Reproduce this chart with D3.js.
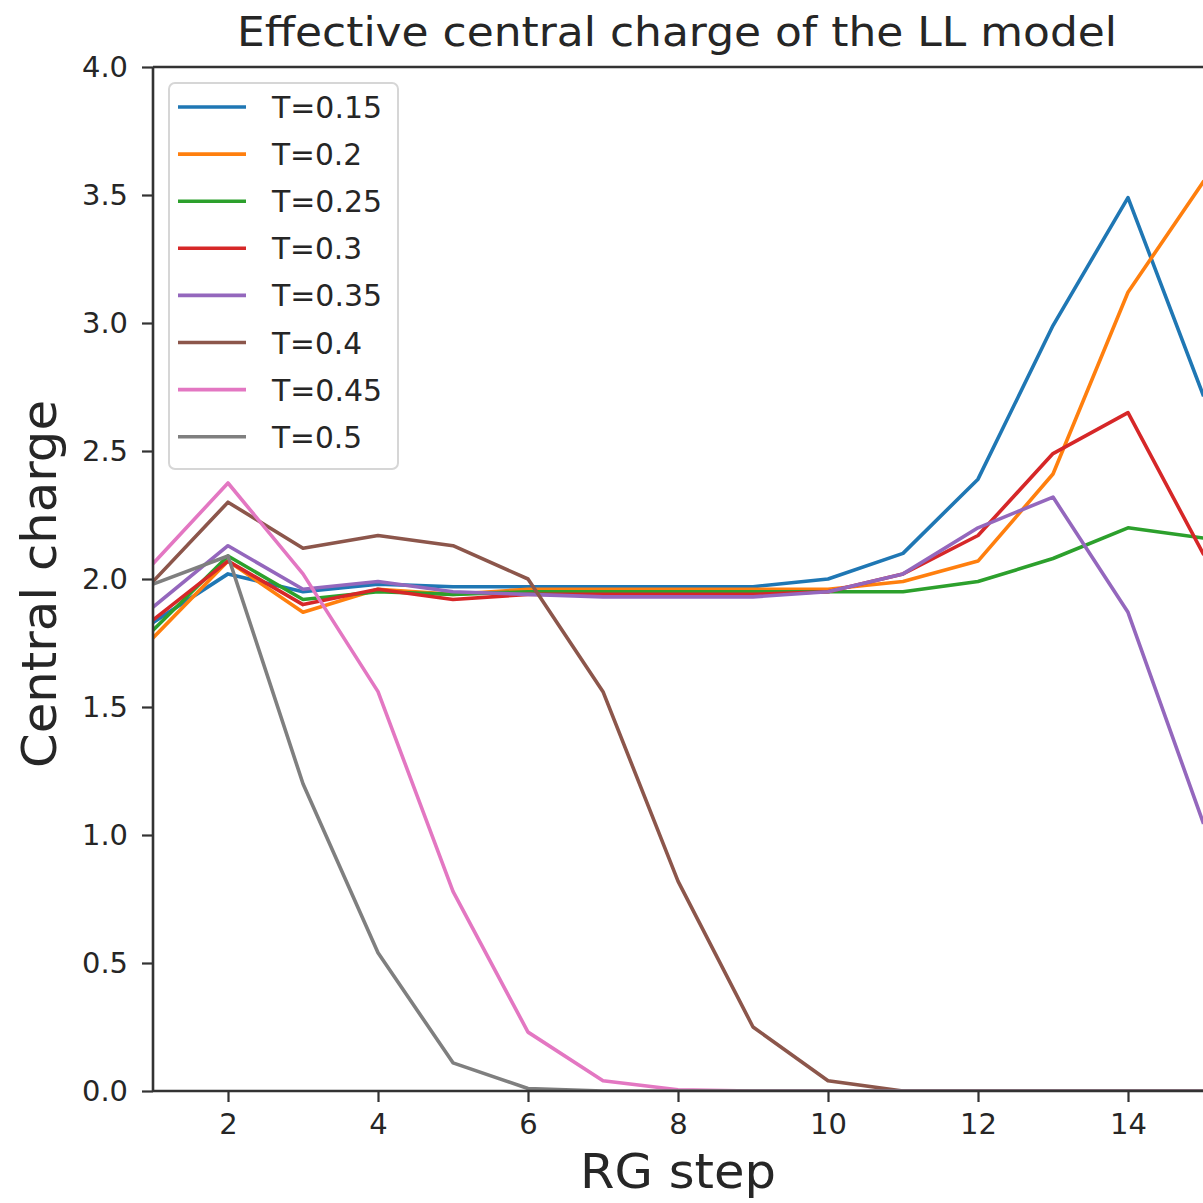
<!DOCTYPE html>
<html>
<head>
<meta charset="utf-8">
<script src="https://cdn.jsdelivr.net/npm/d3@7"></script>
<style>
  html, body { margin: 0; padding: 0; background: #fff; }
  svg { display: block; }
  text { font-family: "DejaVu Sans", sans-serif; fill: #262626; }
</style>
</head>
<body>
<div id="chart"></div>
<script>
// ---- data ----
const steps = [1, 2, 3, 4, 5, 6, 7, 8, 9, 10, 11, 12, 13, 14, 15];
const seriesNames = ["T=0.15", "T=0.2", "T=0.25", "T=0.3", "T=0.35", "T=0.4", "T=0.45", "T=0.5"];
const t015 = [1.83, 2.02, 1.95, 1.98, 1.97, 1.97, 1.97, 1.97, 1.97, 2.00, 2.10, 2.39, 2.99, 3.49, 2.72];
const t020 = [1.77, 2.07, 1.87, 1.96, 1.94, 1.96, 1.96, 1.96, 1.96, 1.96, 1.99, 2.07, 2.41, 3.12, 3.55];
const t025 = [1.80, 2.09, 1.92, 1.95, 1.94, 1.95, 1.95, 1.95, 1.95, 1.95, 1.95, 1.99, 2.08, 2.20, 2.16];
const t030 = [1.84, 2.07, 1.90, 1.96, 1.92, 1.94, 1.94, 1.94, 1.94, 1.95, 2.02, 2.17, 2.49, 2.65, 2.10];
const t035 = [1.89, 2.13, 1.96, 1.99, 1.95, 1.94, 1.93, 1.93, 1.93, 1.95, 2.02, 2.20, 2.32, 1.87, 1.05];
const t040 = [1.99, 2.30, 2.12, 2.17, 2.13, 2.00, 1.56, 0.82, 0.25, 0.04, 0.00, 0.00, 0.00, 0.00, 0.00];
const t045 = [2.06, 2.375, 2.02, 1.56, 0.78, 0.23, 0.04, 0.005, 0.0, 0.0, 0.0, 0.0, 0.0, 0.0, 0.0];
const t050 = [1.98, 2.09, 1.20, 0.54, 0.11, 0.01, 0.0, 0.0, 0.0, 0.0, 0.0, 0.0, 0.0, 0.0, 0.0];
const seriesValues = [t015, t020, t025, t030, t035, t040, t045, t050];
const xTicks = [2, 4, 6, 8, 10, 12, 14];
const yTicks = [0, 0.5, 1.0, 1.5, 2.0, 2.5, 3.0, 3.5, 4.0];
const colors = ["#1f77b4", "#ff7f0e", "#2ca02c", "#d62728", "#9467bd", "#8c564b", "#e377c2", "#7f7f7f"];
const titleText = "Effective central charge of the LL model";
const xLabel = "RG step";
const yLabel = "Central charge";

// ---- layout ----
const W = 1203, H = 1203;
const mLeft = 153, mRight = 1203, mTop = 67, mBottom = 1091;

const svg = d3.select("#chart").append("svg")
  .attr("width", W).attr("height", H);

const x = d3.scaleLinear().domain([1, 15]).range([mLeft, mRight]);
const y = d3.scaleLinear().domain([0, 4]).range([mBottom, mTop]);

svg.append("clipPath").attr("id", "clip")
  .append("rect").attr("x", mLeft).attr("y", mTop).attr("width", mRight - mLeft).attr("height", mBottom - mTop);

// lines
const line = d3.line().x((d, i) => x(steps[i])).y(d => y(d));
const gLines = svg.append("g").attr("clip-path", "url(#clip)");
seriesValues.forEach((vals, k) => {
  gLines.append("path")
    .datum(vals)
    .attr("d", line)
    .attr("fill", "none")
    .attr("stroke", colors[k])
    .attr("stroke-width", 3.6)
    .attr("stroke-linejoin", "round")
    .attr("stroke-linecap", "square");
});

// axes
const xAxis = d3.axisBottom(x).tickValues(xTicks).tickSize(11).tickPadding(11).tickFormat(d3.format("d"));
const yAxis = d3.axisLeft(y).tickValues(yTicks).tickSize(11).tickPadding(14).tickFormat(d3.format(".1f"));

const gx = svg.append("g").attr("transform", `translate(0,${mBottom})`).call(xAxis);
const gy = svg.append("g").attr("transform", `translate(${mLeft},0)`).call(yAxis);
[gx, gy].forEach(g => {
  g.select(".domain").remove();
  g.selectAll(".tick line").attr("stroke", "#333").attr("stroke-width", 2.2);
  g.selectAll(".tick text").attr("font-size", 29).attr("fill", "#262626")
    .style("font-family", "'DejaVu Sans', sans-serif");
});
gy.selectAll(".tick text").attr("textLength", 46).attr("lengthAdjust", "spacingAndGlyphs");

// spines
const spine = svg.append("g").attr("stroke", "#333").attr("stroke-width", 2.6).attr("fill", "none");
spine.append("line").attr("x1", mLeft).attr("x2", mLeft).attr("y1", mTop).attr("y2", mBottom);
spine.append("line").attr("x1", mLeft).attr("x2", W).attr("y1", mBottom).attr("y2", mBottom);
spine.append("line").attr("x1", mLeft).attr("x2", W).attr("y1", mTop).attr("y2", mTop);

// title & labels
svg.append("text").attr("x", 677).attr("y", 46)
  .attr("text-anchor", "middle").attr("font-size", 40)
  .attr("textLength", 880).attr("lengthAdjust", "spacingAndGlyphs")
  .text(titleText);
svg.append("text").attr("x", 678).attr("y", 1188)
  .attr("text-anchor", "middle").attr("font-size", 48)
  .attr("textLength", 196).attr("lengthAdjust", "spacingAndGlyphs")
  .text(xLabel);
svg.append("text")
  .attr("transform", `translate(56,584) rotate(-90)`)
  .attr("text-anchor", "middle").attr("font-size", 48)
  .attr("textLength", 368).attr("lengthAdjust", "spacingAndGlyphs")
  .text(yLabel);

// legend
const lg = svg.append("g");
lg.append("rect").attr("x", 169).attr("y", 83).attr("width", 229).attr("height", 386)
  .attr("rx", 6).attr("ry", 6)
  .attr("fill", "#fff").attr("fill-opacity", 0.85)
  .attr("stroke", "#d6d6d6").attr("stroke-width", 2);
seriesNames.forEach((name, k) => {
  const yy = 107 + k * 47.1;
  lg.append("line").attr("x1", 178).attr("x2", 246).attr("y1", yy).attr("y2", yy)
    .attr("stroke", colors[k]).attr("stroke-width", 3.6);
  lg.append("text").attr("x", 272).attr("y", yy + 11)
    .attr("font-size", 30).attr("textLength", name.length === 6 ? 110 : 90)
    .attr("lengthAdjust", "spacingAndGlyphs").text(name);
});
</script>
</body>
</html>
